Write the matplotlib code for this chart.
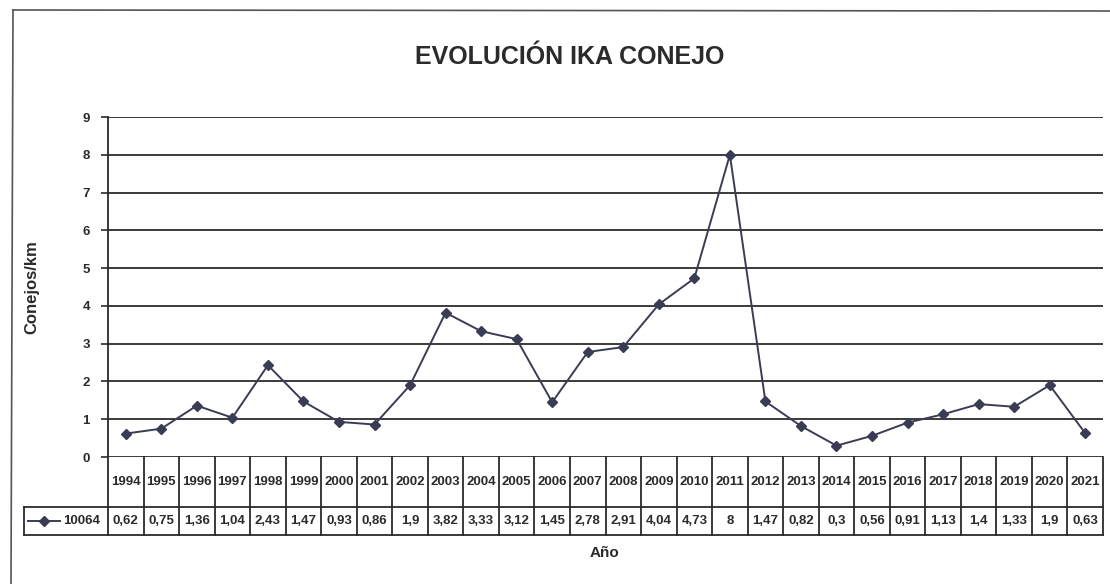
import numpy as np
import matplotlib
matplotlib.use('Agg')
import matplotlib.pyplot as plt
import matplotlib.transforms as mtransforms
from matplotlib.lines import Line2D

plt.rcParams['font.family'] = ['Liberation Sans', 'DejaVu Sans']

years = list(range(1994, 2022))
ika = [0.62, 0.75, 1.36, 1.04, 2.43, 1.47, 0.93, 0.86, 1.9, 3.82, 3.33, 3.12, 1.45,
       2.78, 2.91, 4.04, 4.73, 8, 1.47, 0.82, 0.3, 0.56, 0.91, 1.13, 1.4, 1.33, 1.9, 0.63]
series_name = '10064'
title = 'EVOLUCIÓN IKA CONEJO'
ylabel = 'Conejos/km'
xlabel = 'Año'

W, H = 1110, 584
ink = '#2b2b2b'
line_col = '#3a3c55'

fig = plt.figure(figsize=(W / 100, H / 100), dpi=100)

# outer chart frame (cut off at right and bottom like the scan)
fig.add_artist(Line2D([13 / W, 1.0], [1 - 10 / H, 1 - 11 / H], color='#555555', lw=1.2,
                      transform=fig.transFigure))
fig.add_artist(Line2D([13 / W, 11 / W], [1 - 10 / H, 0.0], color='#555555', lw=1.2,
                      transform=fig.transFigure))

left, right, top, bottom = 108, 1103, 117, 457
ax = fig.add_axes([left / W, 1 - bottom / H, (right - left) / W, (bottom - top) / H])
n = len(years)
ax.set_xlim(-0.5, n - 0.5)
ax.set_ylim(0, 9)
ax.set_yticks(range(10))
ax.set_xticks([])
ax.grid(axis='y', color=ink, lw=1.3)
for s in ['top', 'right', 'bottom']:
    ax.spines[s].set_visible(False)
ax.spines['left'].set_color(ink)
ax.spines['left'].set_linewidth(1.3)
ax.tick_params(axis='y', direction='out', length=5, width=1.2, color=ink, pad=8,
               labelsize=9.5, labelcolor=ink)
for t in ax.get_yticklabels():
    t.set_fontweight('bold')

x = np.arange(n)
ax.plot(x, ika, color=line_col, lw=1.4, marker='D', ms=5, clip_on=False, zorder=3)

# data table under the axis
trans = mtransforms.blended_transform_factory(ax.transData, ax.transAxes)
ph = bottom - top
col_w = (right - left) / n
y_head = -50 / ph
y_val = -78 / ph
x_leg = -0.5 - 84 / col_w

def px2x(px):
    return -0.5 + (px - left) / col_w

kw = dict(color=ink, lw=1.3, transform=trans, clip_on=False)
for i in range(n + 1):
    ax.plot([i - 0.5, i - 0.5], [y_val, 0], **kw)
ax.plot([x_leg, n - 0.5], [y_head, y_head], **kw)
ax.plot([x_leg, n - 0.5], [y_val, y_val], **kw)
ax.plot([x_leg, x_leg], [y_val, y_head], **kw)

for i, (yr, v) in enumerate(zip(years, ika)):
    ax.text(i, y_head / 2, str(yr), transform=trans, ha='center', va='center',
            fontsize=9.5, fontweight='bold', color=ink)
    ax.text(i, (y_head + y_val) / 2, f'{v:g}'.replace('.', ','), transform=trans,
            ha='center', va='center', fontsize=9.5, fontweight='bold', color=ink)

ym = (y_head + y_val) / 2
ax.plot([px2x(28), px2x(60)], [ym, ym], color=line_col, lw=1.4, transform=trans, clip_on=False)
ax.plot([px2x(44)], [ym], color=line_col, marker='D', ms=5, transform=trans, clip_on=False)
ax.text(px2x(63), ym, series_name, transform=trans, ha='left', va='center',
        fontsize=9.5, fontweight='bold', color=ink)

fig.text(570 / W, 1 - 57 / H, title, ha='center', va='center', fontsize=18,
         fontweight='bold', color=ink)
fig.text(32 / W, 1 - 287 / H, ylabel, ha='center', va='center', rotation=90,
         fontsize=12, fontweight='bold', color=ink)
fig.text(605 / W, 1 - 553 / H, xlabel, ha='center', va='center', fontsize=11,
         fontweight='bold', color=ink)

fig.savefig('out.png', dpi=100)
